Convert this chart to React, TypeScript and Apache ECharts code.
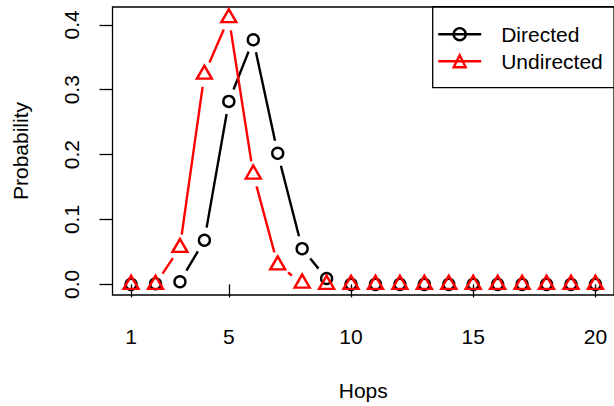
import React, { useEffect, useRef } from "react";
import * as echarts from "echarts";

const hops = [1, 2, 3, 4, 5, 6, 7, 8, 9, 10, 11, 12, 13, 14, 15, 16, 17, 18, 19, 20];
const directed = [0, 0.001, 0.004, 0.068, 0.282, 0.377, 0.202, 0.055, 0.009, 0, 0, 0, 0, 0, 0, 0, 0, 0, 0, 0];
const undirected = [0, 0, 0.057, 0.324, 0.411, 0.17, 0.03, 0.002, 0, 0, 0, 0, 0, 0, 0, 0, 0, 0, 0, 0];
const xTicks = [1, 5, 10, 15, 20];
const yTicks = [0, 0.1, 0.2, 0.3, 0.4];
const seriesNames = ["Directed", "Undirected"];
const colors = ["#000000", "#ff0000"];

const FONT = "'Liberation Sans', Arial, Helvetica, sans-serif";
const GAP = 12.8;
const LW = 2.4;

function segData(vals: number[]) {
  const out: number[][] = [];
  for (let i = 0; i < hops.length - 1; i++) {
    out.push([hops[i], vals[i], hops[i + 1], vals[i + 1]]);
  }
  return out;
}

function segSeries(name: string, vals: number[], color: string) {
  return {
    type: "custom",
    name: name + "-seg",
    coordinateSystem: "cartesian2d",
    silent: true,
    encode: { x: [0, 2], y: [1, 3] },
    data: segData(vals),
    renderItem: (params: any, api: any) => {
      const p1 = api.coord([api.value(0), api.value(1)]);
      const p2 = api.coord([api.value(2), api.value(3)]);
      const dx = p2[0] - p1[0];
      const dy = p2[1] - p1[1];
      const len = Math.sqrt(dx * dx + dy * dy);
      if (len <= 2 * GAP) return { type: "group", children: [] };
      const ux = dx / len;
      const uy = dy / len;
      return {
        type: "line",
        shape: {
          x1: p1[0] + ux * GAP,
          y1: p1[1] + uy * GAP,
          x2: p2[0] - ux * GAP,
          y2: p2[1] - uy * GAP,
        },
        style: { stroke: color, lineWidth: LW, fill: null },
      };
    },
  };
}

function pointSeries(name: string, vals: number[], color: string, symbol: string, size: any, offset: number[]) {
  return {
    type: "scatter",
    name: name + "-pts",
    data: hops.map((h, i) => [h, vals[i]]),
    symbol,
    symbolSize: size,
    symbolOffset: offset,
    silent: true,
    itemStyle: { color: "rgba(0,0,0,0)", borderColor: color, borderWidth: LW, opacity: 1 },
    emphasis: { disabled: true },
  };
}

function legendSeries(name: string, color: string, symbol: string) {
  return {
    type: "line",
    name,
    data: [],
    symbol,
    lineStyle: { color, width: LW },
    itemStyle: { color: "rgba(0,0,0,0)", borderColor: color, borderWidth: LW },
  };
}

export default function App() {
  const ref = useRef<HTMLDivElement>(null);
  useEffect(() => {
    if (!ref.current) return;
    const chart = echarts.init(ref.current, undefined, { renderer: "svg" });
    chart.setOption({
      animation: false,
      backgroundColor: "#ffffff",
      textStyle: { fontFamily: FONT },
      grid: {
        left: 112.5,
        top: 7,
        width: 505,
        height: 289.7,
        show: true,
        borderColor: "#000",
        borderWidth: 1.3,
        backgroundColor: "rgba(0,0,0,0)",
      },
      legend: {
        left: 432.7,
        top: 6.7,
        orient: "vertical",
        borderColor: "#000",
        borderWidth: 1.3,
        borderRadius: 0,
        padding: [17, 40, 16, 4.3],
        itemWidth: 43,
        itemHeight: 15,
        itemGap: 6,
        selectedMode: false,
        textStyle: { fontSize: 21, color: "#000", fontFamily: FONT, padding: [0, 0, 0, 15] },
        data: seriesNames.map((n, i) => ({
          name: n,
          lineStyle: { opacity: 1, width: LW, color: colors[i] },
          itemStyle: { color: "rgba(0,0,0,0)", borderColor: colors[i], borderWidth: LW },
        })),
      },
      xAxis: {
        type: "value",
        min: 0.24,
        max: 20.76,
        name: "Hops",
        nameLocation: "middle",
        nameGap: 85,
        nameTextStyle: { fontSize: 21, color: "#000", fontFamily: FONT },
        axisLine: { show: false },
        axisTick: { show: true, length: 13, lineStyle: { color: "#000", width: 1.3 }, customValues: xTicks },
        axisLabel: { customValues: xTicks, fontSize: 21, color: "#000", margin: 31, fontFamily: FONT },
        splitLine: { show: false },
      },
      yAxis: {
        type: "value",
        min: -0.0164,
        max: 0.4275,
        name: "Probability",
        nameLocation: "middle",
        nameGap: 82,
        nameTextStyle: { fontSize: 21, color: "#000", fontFamily: FONT },
        axisLine: { show: false },
        axisTick: { show: true, length: 13, lineStyle: { color: "#000", width: 1.3 }, customValues: yTicks },
        axisLabel: {
          customValues: yTicks,
          rotate: 90,
          fontSize: 21,
          color: "#000",
          margin: 31,
          fontFamily: FONT,
          formatter: (v: number) => v.toFixed(1),
        },
        splitLine: { show: false },
      },
      series: [
        legendSeries(seriesNames[0], colors[0], "circle"),
        legendSeries(seriesNames[1], colors[1], "triangle"),
        segSeries(seriesNames[0], directed, colors[0]),
        pointSeries(seriesNames[0], directed, colors[0], "circle", 11, [0, 0]),
        segSeries(seriesNames[1], undirected, colors[1]),
        pointSeries(seriesNames[1], undirected, colors[1], "triangle", [15, 13], [0, -2]),
      ],
    });
    return () => chart.dispose();
  }, []);
  return <div ref={ref} style={{ position: "absolute", left: 0, top: 0, width: 614, height: 406 }} />;
}
